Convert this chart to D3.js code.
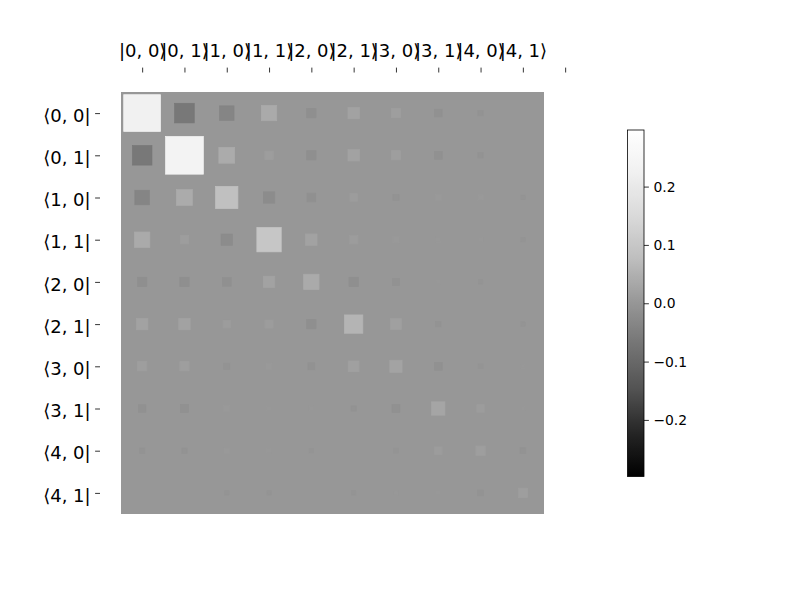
<!DOCTYPE html>
<html>
<head>
<meta charset="utf-8">
<script src="https://cdn.jsdelivr.net/npm/d3@7"></script>
<style>
  html, body { margin: 0; padding: 0; background: #fff; }
  text { font-family: "DejaVu Sans", sans-serif; }
</style>
</head>
<body>
<svg id="chart" width="800" height="600"></svg>
<script>
// ---- data ----
const xLabels = ["|0, 0⟩","|0, 1⟩","|1, 0⟩","|1, 1⟩","|2, 0⟩","|2, 1⟩","|3, 0⟩","|3, 1⟩","|4, 0⟩","|4, 1⟩"];
const yLabels = ["⟨0, 0|","⟨0, 1|","⟨1, 0|","⟨1, 1|","⟨2, 0|","⟨2, 1|","⟨3, 0|","⟨3, 1|","⟨4, 0|","⟨4, 1|"];
const row0 = [ 0.283, -0.080, -0.044,  0.049, -0.018,  0.027,  0.018, -0.012, -0.006,  0.000];
const row1 = [-0.080,  0.297,  0.052,  0.015, -0.018,  0.027,  0.018, -0.013, -0.006,  0.000];
const row2 = [-0.044,  0.052,  0.103, -0.027, -0.016,  0.012, -0.008,  0.008,  0.006, -0.004];
const row3 = [ 0.049,  0.015, -0.027,  0.123,  0.027,  0.014,  0.008,  0.005,  0.004, -0.004];
const row4 = [-0.018, -0.018, -0.016,  0.027,  0.049, -0.018, -0.010,  0.004, -0.004,  0.000];
const row5 = [ 0.027,  0.027,  0.012,  0.014, -0.018,  0.070,  0.024, -0.006,  0.000, -0.004];
const row6 = [ 0.018,  0.018, -0.008,  0.008, -0.010,  0.024,  0.031, -0.013, -0.005,  0.003];
const row7 = [-0.012, -0.013,  0.008,  0.005,  0.004, -0.006, -0.013,  0.037,  0.012,  0.003];
const row8 = [-0.006, -0.006,  0.006,  0.004, -0.004,  0.000, -0.005,  0.012,  0.018, -0.007];
const row9 = [ 0.000,  0.000, -0.004, -0.004,  0.000, -0.004,  0.003,  0.003, -0.007,  0.018];
const cbTicks = [-0.2, -0.1, 0.0, 0.1, 0.2];

// ---- setup ----
const W = [row0,row1,row2,row3,row4,row5,row6,row7,row8,row9];
const n = W.length;
const diagMax = d3.max(W.map((r,i)=>Math.abs(r[i])));
const wMax = 1.25 * diagMax;
const vMax = d3.max(W.flat().map(Math.abs));

// matplotlib Greys colormap
const greysData = [255,240,217,189,150,115,82,37,0];
function greys(t){
  t = Math.max(0, Math.min(1, t));
  const p = t*8, i = Math.min(7, Math.floor(p)), f = p - i;
  const v = Math.round(greysData[i] + (greysData[i+1]-greysData[i])*f);
  return d3.rgb(v,v,v).formatHex();
}
const greysR = t => greys(1 - t);
function colorFn(w){
  let idx = Math.floor((w + wMax) * 256 / (2 * wMax));
  idx = Math.max(0, Math.min(255, idx));
  return greysR(idx/255);
}

const svg = d3.select("#chart");
const x = d3.scaleLinear().domain([0, n]).range([121, 544]);
const y = d3.scaleLinear().domain([0, n]).range([92, 514]);

// background
svg.append("rect")
  .attr("x", x(0)).attr("y", y(0))
  .attr("width", x(n)-x(0)).attr("height", y(n)-y(0))
  .attr("fill", greysR(128/255));

// blobs
const cells = [];
W.forEach((r, i) => r.forEach((w, j) => cells.push({i, j, w})));
const cw = x(1) - x(0), ch = y(1) - y(0);
svg.append("g").selectAll("rect").data(cells).join("rect")
  .attr("x", d => x(d.j + 0.5) - Math.sqrt(Math.min(1, Math.abs(d.w)/wMax))*cw/2)
  .attr("y", d => y(d.i + 0.5) - Math.sqrt(Math.min(1, Math.abs(d.w)/wMax))*ch/2)
  .attr("width", d => Math.sqrt(Math.min(1, Math.abs(d.w)/wMax))*cw)
  .attr("height", d => Math.sqrt(Math.min(1, Math.abs(d.w)/wMax))*ch)
  .attr("fill", d => colorFn(d.w))
  .attr("stroke", d => colorFn(d.w))
  .attr("stroke-width", 0.7);

// x axis (top)
const xTickPos = d3.range(n + 1).map(k => k + 0.5);
const xAxis = d3.axisTop(x).tickValues(xTickPos)
  .tickFormat((d, k) => k < n ? xLabels[k] : "")
  .tickSize(4.9).tickPadding(10);
const gx = svg.append("g").attr("transform", "translate(0,72.5)").call(xAxis);
gx.select(".domain").remove();
gx.selectAll("text").attr("font-size", 18).attr("font-family", "DejaVu Sans").attr("fill", "#000")
  .attr("dy", 0).attr("y", -15.5);
gx.selectAll("line").attr("stroke", "#000").attr("stroke-width", 0.8);

// y axis (left)
const yAxis = d3.axisLeft(y).tickValues(d3.range(n).map(k => k + 0.5))
  .tickFormat((d, k) => yLabels[k]).tickSize(4.9).tickPadding(4.5);
const gy = svg.append("g").attr("transform", "translate(100,0)").call(yAxis);
gy.select(".domain").remove();
gy.selectAll("text").attr("font-size", 18).attr("font-family", "DejaVu Sans").attr("fill", "#000")
  .attr("dy", "0.45em");
gy.selectAll("line").attr("stroke", "#000").attr("stroke-width", 0.8);

// colorbar
const cbX = 627.5, cbW = 16.5, cbTop = 130, cbBot = 476.5;
const defs = svg.append("defs");
const grad = defs.append("linearGradient").attr("id", "cbgrad")
  .attr("x1", 0).attr("y1", 1).attr("x2", 0).attr("y2", 0);
d3.range(0, 257, 4).forEach(k => {
  const t = Math.min(1, k/256);
  grad.append("stop").attr("offset", t).attr("stop-color", greysR(t));
});
svg.append("rect").attr("x", cbX).attr("y", cbTop).attr("width", cbW).attr("height", cbBot - cbTop)
  .attr("fill", "url(#cbgrad)").attr("stroke", "#000").attr("stroke-width", 0.8);
const cy = d3.scaleLinear().domain([-vMax, vMax]).range([cbBot, cbTop]);
const cAxis = d3.axisRight(cy).tickValues(cbTicks)
  .tickFormat(d => d3.format(".1f")(d).replace("-", "−")).tickSize(4.9).tickPadding(4.5);
const gc = svg.append("g").attr("transform", `translate(${cbX + cbW},0)`).call(cAxis);
gc.select(".domain").remove();
gc.selectAll("text").attr("font-size", 13.9).attr("font-family", "DejaVu Sans").attr("fill", "#000");
gc.selectAll("line").attr("stroke", "#000").attr("stroke-width", 0.8);
</script>
</body>
</html>
